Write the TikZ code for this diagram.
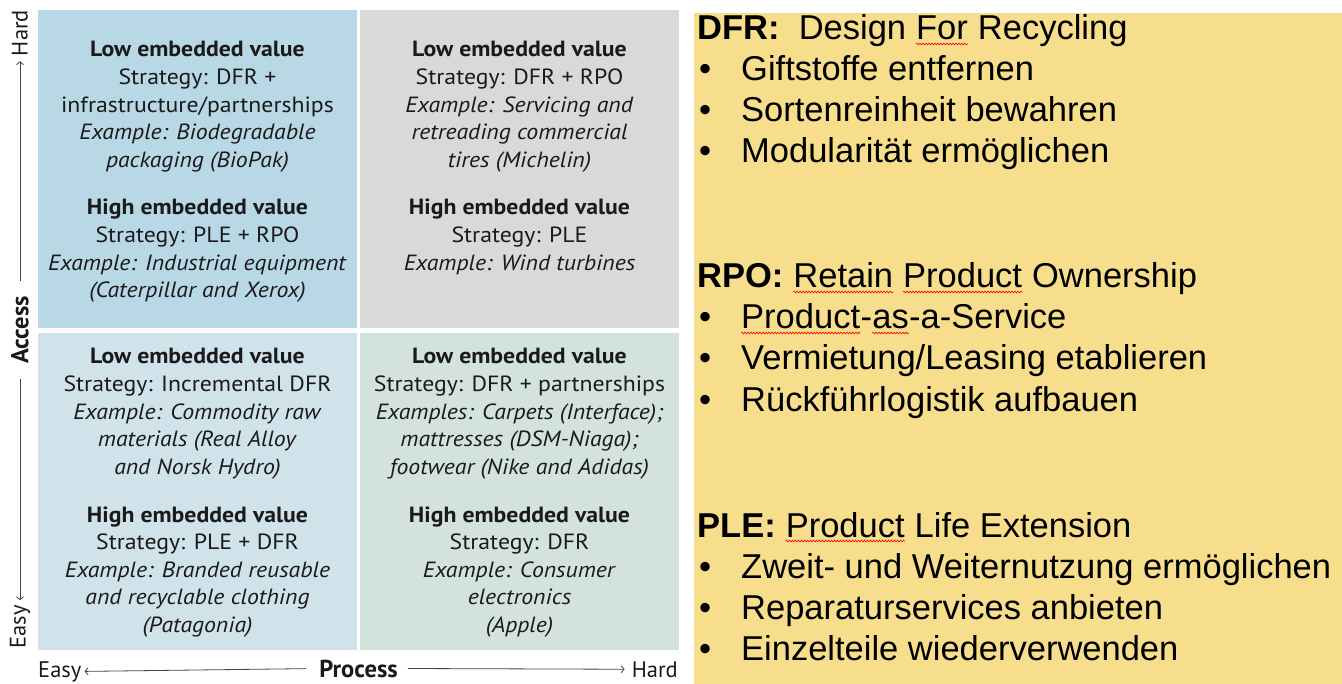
\documentclass[tikz,border=0pt]{standalone}
\usepackage{fontspec}
\setmainfont{Liberation Sans}
\newfontfamily\qfont[FakeStretch=1.08]{PT Sans}
\newfontfamily\afont{PT Sans}
\usetikzlibrary{arrows.meta,decorations.pathmorphing}
\definecolor{qTL}{HTML}{B9D8E6}
\definecolor{qTR}{HTML}{D9D9D9}
\definecolor{qBL}{HTML}{D1E3EA}
\definecolor{qBR}{HTML}{D3E3DC}
\definecolor{panel}{HTML}{F6DE8C}
\definecolor{ink}{HTML}{1A1A1A}
\definecolor{axline}{HTML}{444444}
\newcommand\qblk[1]{\parbox[t]{320pt}{\centering\qfont\fontsize{22}{27.6}\selectfont #1}}
\tikzset{
  qtext/.style={anchor=base, inner sep=0pt, text=ink},
  axlbl/.style={inner sep=0pt, text=ink, font=\afont\fontsize{22.5}{26}\selectfont},
  axttl/.style={inner sep=0pt, text=ink, font=\afont\bfseries\fontsize{24.5}{28}\selectfont},
  ax/.style={draw=axline, line width=0.8pt, -{Straight Barb[length=3pt,width=7pt]}},
  rtext/.style={anchor=base west, inner sep=0pt, font=\fontsize{34.5}{41}\selectfont, text=black},
  bul/.style={anchor=base west, inner sep=0pt, font=\fontsize{34.5}{41}\selectfont, text=black},
  spellwave/.style={draw=red, line width=0.6pt, decorate, decoration={snake, amplitude=0.9pt, segment length=3pt}}
}
\newcommand\wave[1]{\draw[spellwave] ([yshift=-4pt]#1.base west) -- ([yshift=-4pt]#1.base east);}
\begin{document}
\begin{tikzpicture}[x=1pt,y=-1pt]
\useasboundingbox (0,0) rectangle (1342,684);
\fill[white] (0,0) rectangle (1342,684);
% quadrants
\fill[qTL] (38,10) rectangle (357,328);
\fill[qTR] (360,10) rectangle (679,328);
\fill[qBL] (38,333) rectangle (357,650);
\fill[qBR] (360,333) rectangle (679,650);
% TL
\node[qtext] (tlLow) at (197.5,57) {\qblk{\textbf{Low embedded value}\\Strategy: DFR +\\infrastructure/partnerships\\\textit{Example: Biodegradable}\\\textit{packaging (BioPak)}}};
\node[qtext] (tlHigh) at (197.5,215) {\qblk{\textbf{High embedded value}\\Strategy: PLE + RPO\\\textit{Example: Industrial equipment}\\\textit{(Caterpillar and Xerox)}}};
% TR
\node[qtext] (trLow) at (519.5,57) {\qblk{\textbf{Low embedded value}\\Strategy: DFR + RPO\\\textit{Example: Servicing and}\\\textit{retreading commercial}\\\textit{tires (Michelin)}}};
\node[qtext] (trHigh) at (519.5,215) {\qblk{\textbf{High embedded value}\\Strategy: PLE\\\textit{Example: Wind turbines}}};
% BL
\node[qtext] (blLow) at (197.5,364) {\qblk{\textbf{Low embedded value}\\Strategy: Incremental DFR\\\textit{Example: Commodity raw}\\\textit{materials (Real Alloy}\\\textit{and Norsk Hydro)}}};
\node[qtext] (blHigh) at (197.5,522) {\qblk{\textbf{High embedded value}\\Strategy: PLE + DFR\\\textit{Example: Branded reusable}\\\textit{and recyclable clothing}\\\textit{(Patagonia)}}};
% BR
\node[qtext] (brLow) at (519.5,364) {\qblk{\textbf{Low embedded value}\\Strategy: DFR + partnerships\\\textit{Examples: Carpets (Interface);}\\\textit{mattresses (DSM-Niaga);}\\\textit{footwear (Nike and Adidas)}}};
\node[qtext] (brHigh) at (519.5,522) {\qblk{\textbf{High embedded value}\\Strategy: DFR\\\textit{Example: Consumer}\\\textit{electronics}\\\textit{(Apple)}}};
% vertical axis
\node[axlbl, rotate=90] (vHard) at (20,33) {Hard};
\node[axttl, rotate=90] (vAccess) at (20,330) {Access};
\node[axlbl, rotate=90] (vEasy) at (20,627) {Easy};
\draw[ax, shorten <=15pt, shorten >=5pt] (vAccess) -- (vHard);
\draw[ax, shorten <=15pt, shorten >=5pt] (vAccess) -- (vEasy);
% horizontal axis
\node[axlbl, anchor=base west] (hEasy) at (38,677) {Easy};
\node[axttl, anchor=base] (hProcess) at (358.5,677) {Process};
\node[axlbl, anchor=base east] (hHard) at (678,677) {Hard};
\draw[ax, shorten <=13pt, shorten >=3pt] (hProcess.west) -- (hEasy.east);
\draw[ax, shorten <=10pt, shorten >=7pt] (hProcess.east) -- (hHard.west);
% right panel
\fill[panel] (694,13) rectangle (1342,684);
% DFR heading
\node[rtext] (dfrA) at (697,40) {\textbf{DFR:}\ \ Design};
\node[rtext] (dfrB) at ([xshift=9.6pt]dfrA.base east) {For};
\node[rtext] (dfrC) at ([xshift=9.6pt]dfrB.base east) {Recycling};
\wave{dfrB}
\node[bul] (b1) at (699,81) {\textbullet}; \node[rtext] (t1) at (741,81) {Giftstoffe entfernen};
\node[bul] (b2) at (699,122) {\textbullet}; \node[rtext] (t2) at (741,122) {Sortenreinheit bewahren};
\node[bul] (b3) at (699,163) {\textbullet}; \node[rtext] (t3) at (741,163) {Modularität ermöglichen};
% RPO heading
\node[rtext] (rpoA) at (697,288) {\textbf{RPO:}};
\node[rtext] (rpoB) at ([xshift=9.6pt]rpoA.base east) {Retain};
\node[rtext] (rpoC) at ([xshift=9.6pt]rpoB.base east) {Product};
\node[rtext] (rpoD) at ([xshift=9.6pt]rpoC.base east) {Ownership};
\wave{rpoB} \wave{rpoC}
\node[bul] (b4) at (699,329) {\textbullet};
\node[rtext] (t4a) at (741,329) {Product};
\node[rtext] (t4b) at (t4a.base east) {-};
\node[rtext] (t4c) at (t4b.base east) {as};
\node[rtext] (t4d) at (t4c.base east) {-a-Service};
\wave{t4a} \wave{t4c}
\node[bul] (b5) at (699,370) {\textbullet}; \node[rtext] (t5) at (741,370) {Vermietung/Leasing etablieren};
\node[bul] (b6) at (699,412) {\textbullet}; \node[rtext] (t6) at (741,412) {Rückführlogistik aufbauen};
% PLE heading
\node[rtext] (pleA) at (697,537) {\textbf{PLE:}};
\node[rtext] (pleB) at ([xshift=9.6pt]pleA.base east) {Product};
\node[rtext] (pleC) at ([xshift=9.6pt]pleB.base east) {Life Extension};
\wave{pleB}
\node[bul] (b7) at (699,578) {\textbullet}; \node[rtext] (t7) at (741,578) {Zweit- und Weiternutzung ermöglichen};
\node[bul] (b8) at (699,619) {\textbullet}; \node[rtext] (t8) at (741,619) {Reparaturservices anbieten};
\node[bul] (b9) at (699,660) {\textbullet}; \node[rtext] (t9) at (741,660) {Einzelteile wiederverwenden};
\end{tikzpicture}
\end{document}
